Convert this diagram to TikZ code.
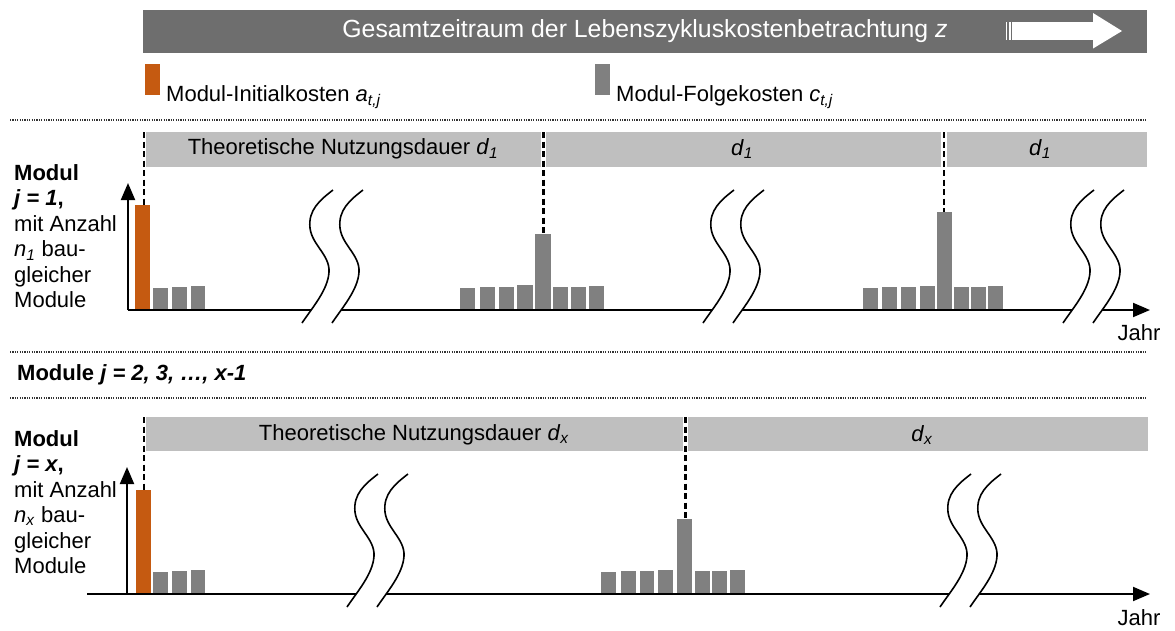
\documentclass[tikz,border=0pt]{standalone}
\usepackage{fontspec}
\setmainfont{Liberation Sans}
\usetikzlibrary{arrows.meta}
\definecolor{topgray}{RGB}{110,110,110}
\definecolor{bargray}{RGB}{128,128,128}
\definecolor{lightbar}{RGB}{191,191,191}
\definecolor{initorange}{RGB}{197,90,17}
\newcommand{\costbar}[5]{\fill[#1] (#2,#4) rectangle (#3,#5);}
\tikzset{
  breakmark/.pic={
    \fill[white] (31,0) .. controls (18,10) and (6,20) .. (8,38) .. controls (10,55) and (28,65) .. (27,82) .. controls (26,100) and (10,118) .. (0,133) -- (30,133) .. controls (40,118) and (56,100) .. (57,82) .. controls (58,65) and (40,55) .. (38,38) .. controls (36,20) and (48,10) .. (61,0) -- cycle;
    \draw[line width=1.6pt] (31,0) .. controls (18,10) and (6,20) .. (8,38) .. controls (10,55) and (28,65) .. (27,82) .. controls (26,100) and (10,118) .. (0,133);
    \draw[line width=1.6pt] (61,0) .. controls (48,10) and (36,20) .. (38,38) .. controls (40,55) and (58,65) .. (57,82) .. controls (56,100) and (40,118) .. (30,133);
  },
  sepline/.style={line width=1.1pt, black!80, dash pattern=on 1.2pt off 1.2pt},
  markline/.style={line width=2.4pt, dash pattern=on 6pt off 3.5pt},
  axisline/.style={line width=1.9pt, -{Triangle[length=17pt,width=14pt]}},
  bartext/.style={inner sep=0pt, anchor=center},
  sidelabel/.style={inner sep=0pt, anchor=north west, align=left},
}
\begin{document}
\begin{tikzpicture}[x=1pt,y=-1pt,font=\fontsize{22}{25.5}\selectfont]
\useasboundingbox (0,0) rectangle (1175,630);

% top bar
\fill[topgray] (143,10) rectangle (1147,53);
\node[bartext, text=white, font=\fontsize{24.8}{28}\selectfont] (title) at (645,31) {Gesamtzeitraum der Lebenszykluskostenbetrachtung \textit{z}};
\fill[white] (1005.5,22) rectangle (1007,40);
\fill[white] (1009,22) rectangle (1010.5,40);
\fill[white] (1012,22) rectangle (1094,40);
\fill[white] (1093,13) -- (1122,31) -- (1093,48.5) -- cycle;

% legend
\fill[initorange] (145,64) rectangle (160,95);
\node[inner sep=0pt, anchor=base west] (leginit) at (166,101) {Modul-Initialkosten \textit{a}\textsubscript{\textit{t,j}}};
\fill[bargray] (595,64) rectangle (610,95);
\node[inner sep=0pt, anchor=base west] (legfolge) at (616,101) {Modul-Folgekosten \textit{c}\textsubscript{\textit{t,j}}};

% separators
\draw[sepline] (10,120) -- (1147,120);
\draw[sepline] (10,352) -- (1147,352);
\draw[sepline] (10,398) -- (1147,398);

% ===== Module 1 =====
\fill[lightbar] (146,132) rectangle (541,167);
\fill[lightbar] (546,132) rectangle (941,167);
\fill[lightbar] (947,132) rectangle (1147,167);
\node[bartext] (tn1) at (343,149) {Theoretische Nutzungsdauer \textit{d}\textsubscript{\textit{1}}};
\node[bartext] (d1b) at (742,149) {\textit{d}\textsubscript{\textit{1}}};
\node[bartext] (d1c) at (1040,149) {\textit{d}\textsubscript{\textit{1}}};

\node[sidelabel] (lab1) at (14,164) {\textbf{Modul}\\\textbf{\textit{j = 1},}\\mit Anzahl\\\textit{n}\textsubscript{\textit{1}} bau-\\gleicher\\Module};

\costbar{initorange}{135}{150}{205}{310}
\costbar{bargray}{153}{168}{288}{310}
\costbar{bargray}{172}{187}{287}{310}
\costbar{bargray}{191}{205}{286}{310}

\costbar{bargray}{460}{475}{288}{310}
\costbar{bargray}{480}{495}{287}{310}
\costbar{bargray}{499}{514}{287}{310}
\costbar{bargray}{517}{533}{285}{310}
\costbar{bargray}{535}{551}{234}{310}
\costbar{bargray}{553}{568}{287}{310}
\costbar{bargray}{571}{586}{287}{310}
\costbar{bargray}{589}{604}{286}{310}

\costbar{bargray}{863}{878}{288}{310}
\costbar{bargray}{882}{897}{287}{310}
\costbar{bargray}{901}{916}{287}{310}
\costbar{bargray}{920}{935}{286}{310}
\costbar{bargray}{937}{952}{212}{310}
\costbar{bargray}{954}{969}{287}{310}
\costbar{bargray}{971}{986}{287}{310}
\costbar{bargray}{988}{1003}{286}{310}

\coordinate (m1a) at (144,132); \coordinate (m1b) at (144,205);
\coordinate (m1c) at (543.5,132); \coordinate (m1d) at (543.5,234);
\coordinate (m1e) at (944,132); \coordinate (m1f) at (944,212);
\draw[markline] (m1a) -- (m1b);
\draw[markline] (m1c) -- (m1d);
\draw[markline] (m1e) -- (m1f);

\coordinate (o1) at (128,310);
\coordinate (y1) at (128,183);
\coordinate (x1) at (1150,310);
\draw[axisline] (o1) -- (y1);
\draw[axisline] (o1) -- (x1);
\node[inner sep=0pt] (jahr1) at (1139,333) {Jahr};

\pic at (302,190) {breakmark};
\pic at (703,190) {breakmark};
\pic at (1063,190) {breakmark};

% ===== Module j = 2..x-1 =====
\node[inner sep=0pt, anchor=west, font=\fontsize{22}{25.5}\selectfont\bfseries] (mid) at (17,375) {Module \textit{j = 2, 3, …, x-1}};

% ===== Module x =====
\fill[lightbar] (146,417) rectangle (683,451);
\fill[lightbar] (688,417) rectangle (1148,451);
\node[bartext] (tnx) at (414,435) {Theoretische Nutzungsdauer \textit{d}\textsubscript{\textit{x}}};
\node[bartext] (dxb) at (922,435) {\textit{d}\textsubscript{\textit{x}}};

\node[sidelabel] (labx) at (14,430) {\textbf{Modul}\\\textbf{\textit{j = x},}\\mit Anzahl\\\textit{n}\textsubscript{\textit{x}} bau-\\gleicher\\Module};

\costbar{initorange}{136}{151}{490}{594}
\costbar{bargray}{153}{168}{572}{594}
\costbar{bargray}{172}{187}{571}{594}
\costbar{bargray}{191}{205}{570}{594}

\costbar{bargray}{601}{616}{572}{594}
\costbar{bargray}{621}{636}{571}{594}
\costbar{bargray}{640}{654}{571}{594}
\costbar{bargray}{658}{673}{570}{594}
\costbar{bargray}{677}{692}{519}{594}
\costbar{bargray}{695}{710}{571}{594}
\costbar{bargray}{712}{727}{571}{594}
\costbar{bargray}{730}{745}{570}{594}

\coordinate (mxa) at (144,417); \coordinate (mxb) at (144,490);
\coordinate (mxc) at (685.5,417); \coordinate (mxd) at (685.5,519);
\draw[markline] (mxa) -- (mxb);
\draw[markline] (mxc) -- (mxd);

\coordinate (ox) at (127,594);
\coordinate (yx) at (127,467);
\coordinate (sx) at (87,594);
\coordinate (xx) at (1150,594);
\draw[axisline] (ox) -- (yx);
\draw[axisline] (sx) -- (xx);
\node[inner sep=0pt] (jahrx) at (1139,618) {Jahr};

\pic at (347,474) {breakmark};
\pic at (940,474) {breakmark};
\end{tikzpicture}
\end{document}
